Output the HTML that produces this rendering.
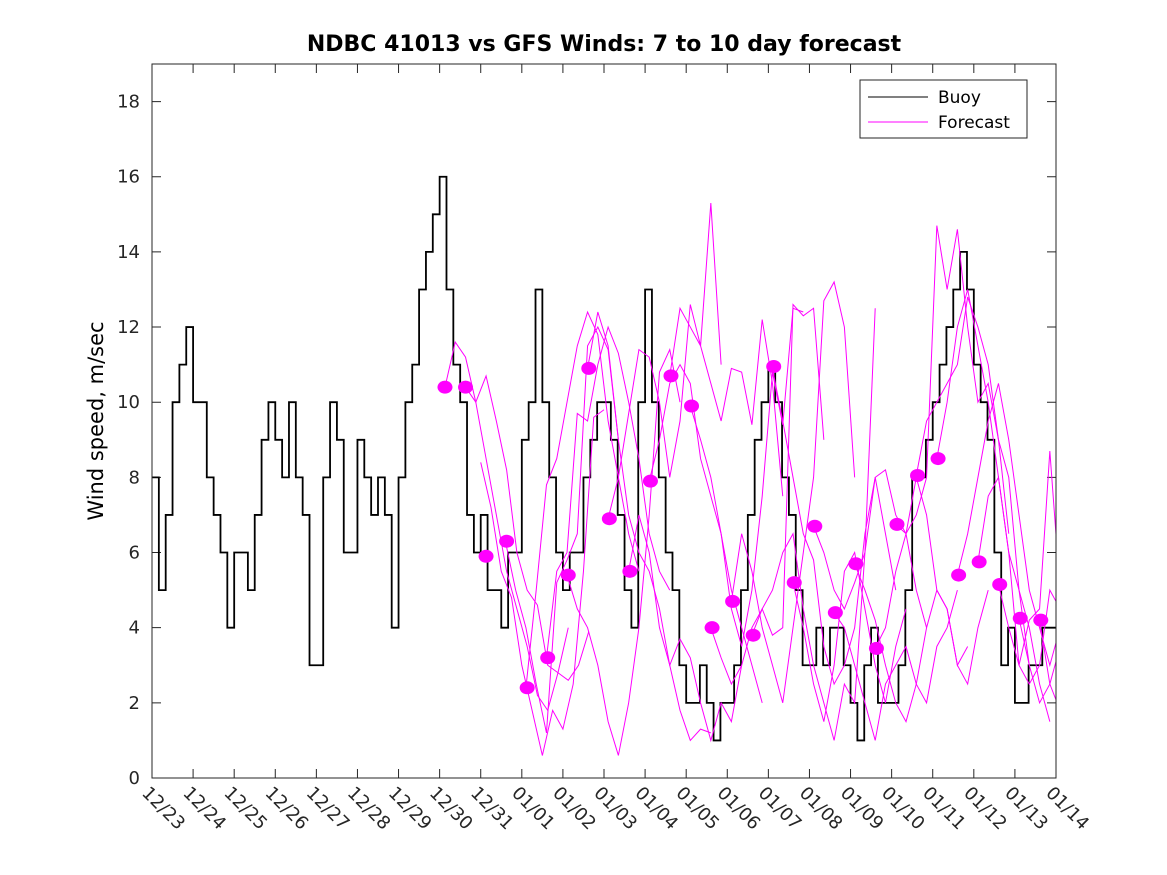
<!DOCTYPE html>
<html><head><meta charset="utf-8"><style>
html,body{margin:0;padding:0;background:#fff;}
svg{display:block;font-family:"DejaVu Sans","Liberation Sans",sans-serif;}
</style></head><body>
<svg id="chart" width="1167" height="875" viewBox="0 0 1167 875">
<defs><clipPath id="pc"><rect x="152" y="64" width="904" height="714"/></clipPath></defs>
<rect x="0" y="0" width="1167" height="875" fill="#fff"/>
<text x="604" y="51" text-anchor="middle" font-size="22" font-weight="bold">NDBC 41013 vs GFS Winds: 7 to 10 day forecast</text>
<text transform="translate(103,421) rotate(-90)" text-anchor="middle" font-size="21">Wind speed, m/sec</text>
<g id="ticks"></g>
<g id="series" clip-path="url(#pc)"></g>
<rect x="152" y="64" width="904" height="714" fill="none" stroke="#262626" stroke-width="1"/>
<g>
<rect x="860" y="80" width="167" height="58" fill="#fff" stroke="#262626" stroke-width="1"/>
<line x1="868" y1="97" x2="928" y2="97" stroke="#000" stroke-width="1"/>
<text x="938" y="103" font-size="17">Buoy</text>
<line x1="868" y1="122" x2="928" y2="122" stroke="#f0f" stroke-width="1"/>
<text x="938" y="128" font-size="17">Forecast</text>
</g>
</svg>
<script>
const xTickLabels=["12/23","12/24","12/25","12/26","12/27","12/28","12/29","12/30","12/31","01/01","01/02","01/03","01/04","01/05","01/06","01/07","01/08","01/09","01/10","01/11","01/12","01/13","01/14"];
const yTicks=[0,2,4,6,8,10,12,14,16,18];
// buoy: 4-hourly values starting 12/23 00:00
const buoy=[8,5,7,10,11,12, 10,10,8,7,6,4, 6,6,5,7,9,10, 9,8,10,8,7,3, 3,8,10,9,6,6, 9,8,7,8,7,4, 8,10,11,13,14,15, 16,13,11,10,7,6, 7,5,5,4,6,6, 9,10,13,10,8,6, 5,6,6,8,9,10, 10,9,7,5,4,10, 13,10,8,6,5,3, 2,2,3,2,1,2, 2,3,5,7,9,10, 11,10,8,7,5,3, 3,4,3,4,4,3, 2,1,3,4,2,2, 2,3,5,8,8,9, 10,11,12,13,14,13, 11,10,9,6,3,4, 2,2,3,3,4,4,4];
const dotDays=[7.13,7.63,8.13,8.63,9.13,9.63,10.13,10.63,11.13,11.63,12.13,12.63,13.13,13.63,14.13,14.63,15.13,15.63,16.13,16.63,17.13,17.63,18.13,18.63,19.13,19.63,20.13,20.63,21.13,21.63];
const dotVals=[10.4,10.4,5.9,6.3,2.4,3.2,5.4,10.9,6.9,5.5,7.9,10.7,9.9,4.0,4.7,3.8,10.95,5.2,6.7,4.4,5.7,3.45,6.75,8.05,8.5,5.4,5.75,5.15,4.25,4.2];
const fcStarts=[7.13,7.63,8.0,8.6,9.1,9.6,10.1,10.6,11.1,11.6,12.1,12.6,13.1,13.6,14.1,14.6,15.1,15.6,16.1,16.6,17.1,17.6,18.1,18.6,19.1,19.6,20.1,20.6,21.1,21.6];
const fc0=[10.4,11.6,11.2,10,8.5,7,5.5,4.5,3.5,2.2,1.8,2.8,4];
const fc1=[10.4,10,10.7,9.5,8.2,6,5,4.6,3,2.8,2.6,3,3.9];
const fc2=[8.4,7.2,5.5,4.8,3,1.8,0.6,1.8,1.3,2.5,5.5,9.6,9.8];
const fc3=[6.3,5,4,2.5,1.2,5.2,5.8,6.5,11.5,12,11.4,9];
const fc4=[2.4,5,7.8,8.5,10,11.5,12.4,11.8,9.5,8,6.5,5.5];
const fc5=[3.2,5.5,6,9.7,9.5,11,12,11.3,10,8.5,6.5,5.5,5];
const fc6=[5.4,4.5,4,3,1.5,0.6,2,4,7,10.8,11.4,10];
const fc7=[10.9,12.4,11.5,9,7,6,5.5,4.5,3,1.8,1,1.3,1.2];
const fc8=[6.9,8,9.7,11.4,11.2,10,8,9.5,12.6,11.5,15.3,11];
const fc9=[5.5,7,6,4,3,3.7,3.2,2,1,2,1.5,3];
const fc10=[7.9,9,10.5,11,10.5,8.5,7.5,6.5,5,4,3,2];
const fc11=[10.7,12.5,12,11.5,10.5,9.5,10.9,10.8,9.4,12.2,10.5,7.5];
const fc12=[9.9,9,8,6.5,4.5,3.5,5,7.5,10.8,9.4,12.5,12.4];
const fc13=[4,3.2,2.5,3,4,4.5,3.8,4,12.6,12.3,12.5,9];
const fc14=[4.7,6.5,5.5,4,3,2,4,6,8,12.7,13.2,12,8];
const fc15=[3.8,4.5,5,6,6.5,4.5,3,2,1,2.5,2,6,12.5];
const fc16=[10.9,9.5,8,6.5,5.8,3.5,2.5,3,4,6.5,8,6.5,5];
const fc17=[5.2,4,2.5,1.5,3,5.5,6,4.5,3,2,3.5,4.5];
const fc18=[6.7,6,5,4.5,5.2,6,8,8.2,7,6.5,5,4];
const fc19=[4.4,4,3,2,1,2.5,3,3.5,2.5,2,3.5,4,5];
const fc20=[5.7,5,4.2,3,2,1.5,2.5,4,5,4.5,3,3.5];
const fc21=[3.45,4,5.5,6.5,8,7,5,4.5,3,2.5,4,5];
const fc22=[6.75,6.5,7,8,14.7,13,14.6,12,10,10.5,9,6.5];
const fc23=[8.05,9.5,10,10.5,11,12.8,12,11,9,8,5,3];
const fc24=[8.5,10,12,13,11.5,10,8,6,5,4,2.5,1.5];
const fc25=[5.4,6.5,8,9.5,10.5,9,7,5,4,3,4,2.5];
const fc26=[5.75,7.5,8,6,3,2.5,3,5,4.5,3.5,2,1.5];
const fc27=[5.15,4,3,4.2,4.5,8.7,5,2,1.5,1.2,2.5];
const fc28=[4.25,3,2,2.5,3.5,5.3,4.5];
const fc29=[4.2,2.5,1.8,3,4.5,7.5];
const fcSeries=[fc0,fc1,fc2,fc3,fc4,fc5,fc6,fc7,fc8,fc9,fc10,fc11,fc12,fc13,fc14,fc15,fc16,fc17,fc18,fc19,fc20,fc21,fc22,fc23,fc24,fc25,fc26,fc27,fc28,fc29];

const NS="http://www.w3.org/2000/svg";
const X0=152,X1=1056,Y0=778,Y1=64,DMAX=22,VMAX=19;
function xs(d){return X0+(X1-X0)*d/DMAX;}
function ys(v){return Y0-(Y0-Y1)*v/VMAX;}
const ticks=document.getElementById('ticks');
const series=document.getElementById('series');

yTicks.forEach(v=>{
  const y=ys(v);
  const l=document.createElementNS(NS,'path');
  l.setAttribute('d',`M${X0},${y}H${X0+9}M${X1},${y}H${X1-9}`);
  l.setAttribute('stroke','#262626');
  
  
  ticks.appendChild(l);
  const t=document.createElementNS(NS,'text');
  t.setAttribute('x',X0-12);t.setAttribute('y',y+6);
  t.setAttribute('text-anchor','end');t.setAttribute('font-size','18');
  t.setAttribute('fill','#262626');
  
  
  t.textContent=v;ticks.appendChild(t);
});
xTickLabels.forEach((lab,i)=>{
  const x=xs(i);
  const l=document.createElementNS(NS,'path');
  l.setAttribute('d',`M${x},${Y0}V${Y0-9}M${x},${Y1}V${Y1+9}`);
  l.setAttribute('stroke','#262626');
  
  
  ticks.appendChild(l);
  const t=document.createElementNS(NS,'text');
  t.setAttribute('transform',`translate(${x-11},${Y0+16}) rotate(45)`);
  t.setAttribute('font-size','18');t.setAttribute('fill','#262626');
  
  
  t.textContent=lab;ticks.appendChild(t);
});

let d='';
buoy.forEach((v,i)=>{
  const x=xs(i/6),y=ys(v);
  if(i===0)d+=`M${x},${y}`;else d+=`H${x}V${y}`;
});
const bp=document.createElementNS(NS,'path');
bp.setAttribute('d',d);bp.setAttribute('fill','none');
bp.setAttribute('stroke','#000');bp.setAttribute('stroke-width','1.8');


series.appendChild(bp);

fcSeries.forEach((arr,k)=>{
  const pts=arr.map((v,i)=>`${xs(fcStarts[k]+i*0.25)},${ys(v)}`).join(' ');
  const pl=document.createElementNS(NS,'polyline');
  pl.setAttribute('points',pts);pl.setAttribute('fill','none');
  pl.setAttribute('stroke','#ff00ff');pl.setAttribute('stroke-width','1');
  
  
  series.appendChild(pl);
});
dotDays.forEach((dd,i)=>{
  const e=document.createElementNS(NS,'ellipse');
  e.setAttribute('cx',xs(dd));e.setAttribute('cy',ys(dotVals[i]));
  e.setAttribute('rx','7.5');e.setAttribute('ry','6.5');
  e.setAttribute('fill','#ff00ff');
  
  
  series.appendChild(e);
});
</script>
</body></html>
